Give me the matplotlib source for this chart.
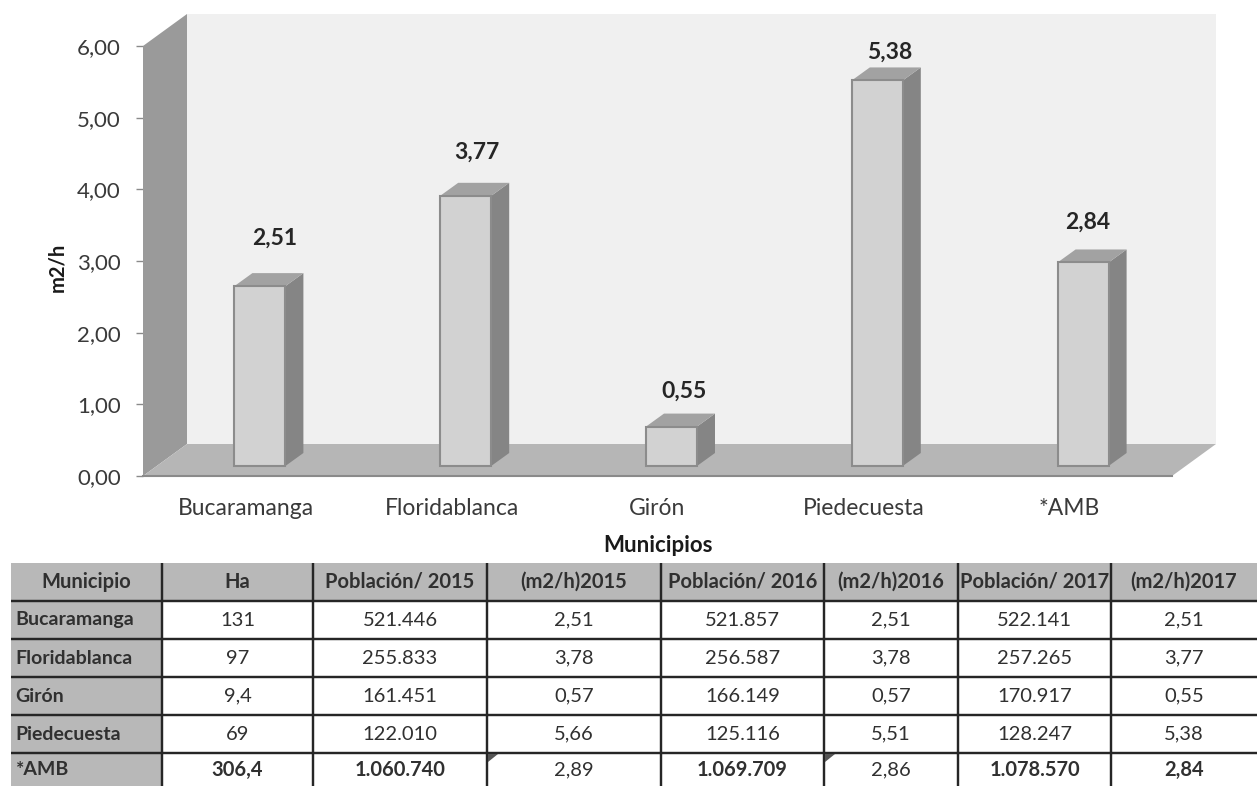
import matplotlib
matplotlib.use('Agg')
import matplotlib.pyplot as plt
from matplotlib.patches import Polygon, Rectangle

plt.rcParams['font.family'] = ['Lato', 'DejaVu Sans']

municipios = ['Bucaramanga', 'Floridablanca', 'Girón', 'Piedecuesta', '*AMB']
valores = [2.51, 3.77, 0.55, 5.38, 2.84]
etiquetas = ['2,51', '3,77', '0,55', '5,38', '2,84']
yticks = [0, 1, 2, 3, 4, 5, 6]
ytick_labels = ['0,00', '1,00', '2,00', '3,00', '4,00', '5,00', '6,00']

header = ['Municipio', 'Ha', 'Población/ 2015', '(m2/h)2015', 'Población/ 2016', '(m2/h)2016', 'Población/ 2017', '(m2/h)2017']
ha = ['131', '97', '9,4', '69', '306,4']
pob_2015 = ['521.446', '255.833', '161.451', '122.010', '1.060.740']
m2_2015 = ['2,51', '3,78', '0,57', '5,66', '2,89']
pob_2016 = ['521.857', '256.587', '166.149', '125.116', '1.069.709']
m2_2016 = ['2,51', '3,78', '0,57', '5,51', '2,86']
pob_2017 = ['522.141', '257.265', '170.917', '128.247', '1.078.570']
m2_2017 = ['2,51', '3,77', '0,55', '5,38', '2,84']

W, H = 1257, 786
fig = plt.figure(figsize=(W / 100, H / 100), dpi=100)

#%% chart: front plane runs 143-1172 px across, 476-46 px down
x0, x1, y0, y1 = 143, 1172, 476, 46
ax = fig.add_axes([x0 / W, 1 - y0 / H, (x1 - x0) / W, (y0 - y1) / H])
ax.set_xlim(-0.5, 4.5)
ax.set_ylim(0, 6)
ax.patch.set_visible(False)
px_x = 5 / (x1 - x0)
px_y = 6 / (y0 - y1)
dx = 44 * px_x
dy = 32 * px_y

gris_fondo = '#f0f0f0'
ax.add_patch(Polygon([(-0.5 + dx, dy), (4.5 + dx, dy), (4.5 + dx, 6 + dy), (-0.5 + dx, 6 + dy)],
                     fc=gris_fondo, ec='none', clip_on=False, zorder=1))
ax.add_patch(Polygon([(-0.5, 0), (-0.5 + dx, dy), (-0.5 + dx, 6 + dy), (-0.5, 6)],
                     fc='#9a9a9a', ec='none', clip_on=False, zorder=2))
ax.add_patch(Polygon([(-0.5, 0), (4.5, 0), (4.5 + dx, dy), (-0.5 + dx, dy)],
                     fc='#b6b6b6', ec='none', clip_on=False, zorder=2))

# bars stand a little behind the front edge of the floor
shift_x = 14 * px_x
base = 10 * px_y
ancho = 51 * px_x
bar_dx = 18 * px_x
bar_dy = 13 * px_y
xs = [k + shift_x for k in range(len(valores))]
ax.bar(xs, valores, width=ancho, bottom=base, color='#d2d2d2', edgecolor='#8c8c8c',
       linewidth=1.5, zorder=5, clip_on=False)
for x, v in zip(xs, valores):
    l, r, t = x - ancho / 2, x + ancho / 2, v + base
    ax.add_patch(Polygon([(r, base), (r + bar_dx, base + bar_dy), (r + bar_dx, t + bar_dy), (r, t)],
                         fc='#858585', ec='none', clip_on=False, zorder=4))
    ax.add_patch(Polygon([(l, t), (r, t), (r + bar_dx, t + bar_dy), (l + bar_dx, t + bar_dy)],
                         fc='#a2a2a2', ec='none', clip_on=False, zorder=4))

label_dx = [15, 11, 13, 12, 5]
label_dy = [48, 44, 35, 28, 40]
for x, v, txt, ox, oy in zip(xs, valores, etiquetas, label_dx, label_dy):
    ax.annotate(txt, (x, v + base), xytext=(ox, oy), textcoords='offset pixels', ha='center', va='center',
                fontsize=16.5, fontweight='bold', color='#262626', annotation_clip=False, zorder=6)

for s in ['top', 'right', 'left']:
    ax.spines[s].set_visible(False)
ax.spines['bottom'].set_color('#8a8a8a')
ax.spines['bottom'].set_linewidth(1.5)
ax.spines['bottom'].set_zorder(3)
ax.set_yticks(yticks)
ax.set_yticklabels(ytick_labels, fontsize=16, color='#3a3a3a')
ax.tick_params(axis='y', length=5, width=1, color='#8a8a8a', pad=11)
ax.set_xticks(range(len(municipios)))
ax.set_xticklabels(municipios, fontsize=16.5, color='#3a3a3a')
ax.tick_params(axis='x', length=0, pad=16)
ax.set_xlabel('Municipios', fontsize=16, fontweight='bold', color='#1a1a1a')
ax.xaxis.set_label_coords((658 - x0) / (x1 - x0), (y0 - 545) / (y0 - y1), transform=ax.transAxes)
ax.xaxis.label.set_va('center')
ax.set_ylabel('m2/h', fontsize=14.5, fontweight='bold', color='#1a1a1a')
ax.yaxis.set_label_coords((57 - x0) / (x1 - x0), (y0 - 267) / (y0 - y1), transform=ax.transAxes)
ax.yaxis.label.set_va('center')

#%% table
edges = [11, 162, 313, 487, 661, 824, 958, 1111, 1257]
row_h = [38, 38, 38, 38, 38, 33]
t_top, t_bottom = 563, 786
tab_ax = fig.add_axes([0, 0, 1, 1])
tab_ax.set_xlim(0, W)
tab_ax.set_ylim(H, 0)
tab_ax.axis('off')

# open-edged cells fill badly, so the grey goes underneath and cells stay transparent
gris_tabla = '#b8b8b8'
tab_ax.add_patch(Rectangle((edges[0], t_top), edges[-1] - edges[0], row_h[0], fc=gris_tabla, ec='none', zorder=1))
tab_ax.add_patch(Rectangle((edges[0], t_top), edges[1] - edges[0], t_bottom - t_top, fc=gris_tabla, ec='none', zorder=1))

rows = [[m, a, b, c, d, e, f, g] for m, a, b, c, d, e, f, g in
        zip(municipios, ha, pob_2015, m2_2015, pob_2016, m2_2016, pob_2017, m2_2017)]
widths = [(r - l) / (edges[-1] - edges[0]) for l, r in zip(edges[:-1], edges[1:])]
bbox = [edges[0] / W, 1 - t_bottom / H, (edges[-1] - edges[0]) / W, (t_bottom - t_top) / H]
tabla = tab_ax.table(cellText=[header] + rows, colWidths=widths, bbox=bbox, cellLoc='center', zorder=2)
tabla.auto_set_font_size(False)

bold_last = {(5, 1), (5, 2), (5, 4), (5, 6), (5, 7)}
n_rows, n_cols = len(rows) + 1, len(header)
for (r, c), cell in tabla.get_celld().items():
    cell.set_edgecolor('#262626')
    cell.set_linewidth(1.6)
    cell.set_facecolor('none')
    cell.set_height(row_h[r] / sum(row_h))
    e = 'LRTB'
    if r == 0:
        e = e.replace('T', '')
    if r == n_rows - 1:
        e = e.replace('B', '')
    if c == 0:
        e = e.replace('L', '')
    if c == n_cols - 1:
        e = e.replace('R', '')
    cell.visible_edges = e
    txt = cell.get_text()
    txt.set_color('#303030')
    if r == 0:
        txt.set_fontsize(14.5)
        txt.set_fontweight('bold')
    elif c == 0:
        txt.set_fontsize(14)
        txt.set_fontweight('bold')
        txt.set_ha('left')
        cell.PAD = 0.03
    else:
        txt.set_fontsize(14.5)
        if (r, c) in bold_last:
            txt.set_fontweight('bold')

# small cell comment markers on the AMB row
for xm in [edges[3], edges[5]]:
    tab_ax.add_patch(Polygon([(xm + 1, 754), (xm + 11, 754), (xm + 1, 762)], fc='#555555', ec='none', zorder=10))

fig.savefig('out.png', dpi=100, facecolor='white')
